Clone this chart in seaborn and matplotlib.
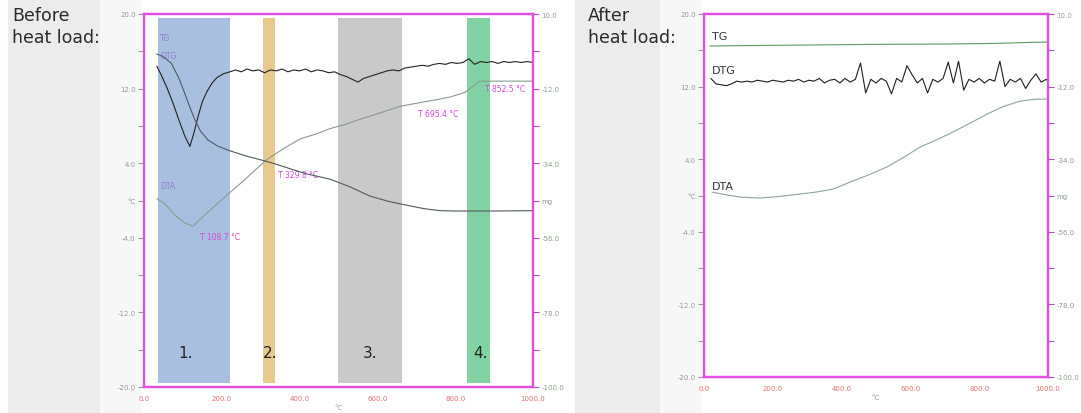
import matplotlib
matplotlib.use("Agg")
import matplotlib.pyplot as plt
import matplotlib.patches as mpatches
import seaborn as sns

# --- data (left axis: DTA/DTG, right axis: TG) ---

# Before heat load
dtg_before_t = [33, 45, 60, 75, 90, 105, 118, 128, 139, 150, 162, 175, 188, 205, 221,
                235, 250, 265, 280, 295, 310, 325, 340, 355, 370, 385, 400, 415, 430,
                445, 460, 475, 490, 505, 520, 535, 550, 565, 580, 595, 610, 625, 640,
                655, 670, 685, 700, 715, 730, 745, 760, 775, 790, 805, 820, 835, 850,
                865, 880, 895, 910, 925, 940, 955, 970, 985, 1000]
dtg_before_v = [14.4, 13.4, 12.0, 10.4, 8.6, 6.9, 5.8, 7.2, 9.0, 10.6, 11.7, 12.6, 13.2, 13.6, 13.8,
                14.0, 13.8, 14.1, 13.9, 14.0, 13.7, 14.0, 13.9, 14.1, 13.8, 14.0, 13.9, 14.1, 13.8,
                14.0, 13.9, 13.7, 13.8, 13.5, 13.3, 13.0, 12.7, 13.1, 13.3, 13.5, 13.7, 13.9, 14.0,
                13.9, 14.2, 14.3, 14.4, 14.5, 14.4, 14.6, 14.7, 14.6, 14.8, 14.7, 14.8, 15.2, 14.6,
                14.9, 14.8, 14.9, 14.7, 14.9, 14.8, 14.9, 14.8, 14.9, 14.8]

dta_before_t = [33, 55, 80, 105, 126, 150, 200, 250, 316, 360, 401, 440, 478, 520, 555,
                600, 658, 710, 750, 787, 825, 845, 858, 870, 900, 950, 1000]
dta_before_v = [0.2, -0.4, -1.6, -2.4, -2.75, -1.8, 0.1, 1.9, 4.4, 5.6, 6.6, 7.1, 7.7, 8.2, 8.7,
                9.3, 10.1, 10.5, 10.8, 11.1, 11.6, 12.2, 12.7, 12.8, 12.8, 12.8, 12.8]

tg_before_t = [33, 50, 70, 90, 105, 118, 130, 145, 165, 190, 220, 260, 300, 340, 380,
               420, 478, 530, 581, 630, 684, 720, 761, 800, 900, 1000]
tg_before_v = [-1.8, -2.6, -4.5, -9.0, -13.5, -17.5, -21.0, -24.5, -27.2, -29.0, -30.3, -31.8,
               -33.0, -34.3, -35.8, -37.2, -38.7, -41.0, -43.7, -45.3, -46.6, -47.4, -48.0,
               -48.1, -48.1, -48.0]

# step regions 1-4
band_starts = [36, 306, 499, 830]
band_ends = [221, 337, 663, 889]
band_colors = ["#a9bfe0", "#e9c98e", "#c9c9c9", "#82d3a3"]
band_labels = ["1.", "2.", "3.", "4."]
band_label_x = [108, 324, 581, 864]

# marked temperatures on the DTA curve
peak_texts = ["T 108.7 °C", "T 329.8 °C", "T 695.4 °C", "T 852.5 °C"]
peak_text_x = [144, 344, 704, 877]
peak_text_y = [-3.9, 2.8, 9.3, 12.0]

# After heat load
dtg_after_t = [20, 35, 50, 65, 80, 95, 110, 125, 140, 155, 170, 185, 200, 215, 230, 245,
               260, 275, 290, 305, 320, 335, 350, 365, 380, 395, 410, 425, 440, 455, 470,
               485, 500, 515, 530, 545, 560, 575, 590, 605, 620, 635, 650, 665, 680, 695,
               710, 725, 740, 755, 770, 785, 800, 815, 830, 845, 860, 875, 890, 905, 920,
               935, 950, 965, 980, 995, 1000]
dtg_after_v = [12.9, 12.3, 12.2, 12.1, 12.3, 12.6, 12.5, 12.6, 12.5, 12.7, 12.6, 12.5, 12.7, 12.6,
               12.5, 12.7, 12.6, 12.8, 12.5, 12.7, 12.6, 12.9, 12.4, 12.7, 12.8, 12.4, 12.9, 12.5,
               12.8, 14.6, 11.3, 12.8, 12.4, 12.9, 12.6, 11.2, 12.9, 12.5, 14.3, 13.3, 12.4, 12.9,
               11.3, 12.8, 12.5, 12.9, 14.7, 12.4, 14.8, 11.6, 12.8, 12.5, 12.9, 12.4, 12.8, 12.6,
               14.8, 12.0, 12.8, 12.5, 12.9, 11.8, 12.7, 13.4, 12.5, 12.8, 12.6]

dta_after_t = [23, 60, 105, 163, 220, 279, 330, 375, 433, 480, 532, 580, 628, 680, 724,
               775, 823, 870, 919, 960, 1000]
dta_after_v = [0.38, 0.1, -0.17, -0.28, -0.1, 0.16, 0.4, 0.71, 1.6, 2.3, 3.14, 4.2, 5.34, 6.2,
               7.0, 8.0, 8.98, 9.8, 10.4, 10.6, 10.63]

tg_after_t = [17, 100, 300, 500, 700, 850, 950, 1000]
tg_after_v = [0.3, 0.4, 0.6, 0.8, 0.9, 1.1, 1.4, 1.5]

# axis ticks
x_ticks = [0, 200, 400, 600, 800, 1000]
x_labels = ["0.0", "200.0", "400.0", "600.0", "800.0", "1000.0"]
left_ticks = [20, 12, 4, -4, -12, -20]
left_labels = ["20.0", "12.0", "4.0", "-4.0", "-12.0", "-20.0"]
right_ticks = [10, -12, -34, -56, -78, -100]
right_labels = ["10.0", "-12.0", "-34.0", "-56.0", "-78.0", "-100.0"]

sns.set_style("white")
plt.rcParams['font.family'] = ['DejaVu Sans']

W, H = 1081, 414
fig = plt.figure(figsize=(W / 100, H / 100), dpi=100)
fig.patch.set_facecolor("white")

# grey side columns behind the captions
def add_bg(x0, x1, color):
    fig.patches.append(mpatches.Rectangle((x0 / W, 0), (x1 - x0) / W, 1,
                                          transform=fig.transFigure, color=color, zorder=-5))

add_bg(8, 100, "#ececec")
add_bg(100, 140, "#f7f7f7")
add_bg(575, 660, "#ececec")
add_bg(660, 700, "#f7f7f7")

fig.text(12 / W, 1 - 7 / H, "Before\nheat load:", fontsize=12.5, color="#2a2a2a",
         va="top", ha="left", linespacing=1.3)
fig.text(588 / W, 1 - 7 / H, "After\nheat load:", fontsize=12.5, color="#2a2a2a",
         va="top", ha="left", linespacing=1.3)

spine_col = "#e24fe0"


def style_axes(ax, ax2):
    ax.set_xlim(0, 1000)
    ax.set_ylim(-20, 20)
    ax2.set_ylim(-100, 10)
    ax.set_facecolor("white")
    for a in (ax, ax2):
        for s in a.spines.values():
            s.set_color(spine_col)
            s.set_linewidth(1.6)
    ax.set_xticks(x_ticks, labels=x_labels)
    ax.set_xticks([100, 300, 500, 700, 900], minor=True)
    ax.set_yticks(left_ticks, labels=left_labels)
    ax.set_yticks([16, 8, 0, -8, -16], labels=["", "", "°C", "", ""], minor=True)
    ax2.set_yticks(right_ticks, labels=right_labels)
    ax2.set_yticks([-1, -23, -45, -67, -89], labels=["", "", "mg", "", ""], minor=True)
    ax.tick_params(axis="x", which="both", direction="out", length=4, width=0.8,
                   colors="#a050c0", labelsize=5, labelcolor="#e07070", pad=2)
    ax.tick_params(axis="y", which="both", direction="out", length=4, width=0.8,
                   colors="#999999", labelsize=5, labelcolor="#999999", pad=2)
    ax2.tick_params(axis="y", which="both", direction="out", length=4, width=0.8,
                    colors="#a050c0", labelsize=5, labelcolor="#8aa08a", pad=2)
    ax.set_xlabel("°C", fontsize=5, color="#999999", labelpad=2)
    ax.set_ylabel("")
    ax2.set_ylabel("")
    ax.grid(False)
    ax2.grid(False)


# ---------------- before heat load ----------------
ax = fig.add_axes([144 / W, (H - 388) / H, 389 / W, 373 / H])
ax2 = ax.twinx()
style_axes(ax, ax2)

for s, e, c in zip(band_starts, band_ends, band_colors):
    ax.axvspan(s, e, ymin=0.012, ymax=0.988, color=c, lw=0, zorder=0)
for x, lab in zip(band_label_x, band_labels):
    ax.text(x, -16.3, lab, fontsize=11, color="#222222", ha="center", va="center")

sns.lineplot(x=dta_before_t, y=dta_before_v, ax=ax, color="#8a9a90", linewidth=0.8)
sns.lineplot(x=dtg_before_t, y=dtg_before_v, ax=ax, color="#222222", linewidth=0.8)
sns.lineplot(x=tg_before_t, y=tg_before_v, ax=ax2, color="#4f5a62", linewidth=0.8)

for x, y, t in zip(peak_text_x, peak_text_y, peak_texts):
    ax.text(x, y, t, fontsize=5.5, color="#d548d5", ha="left", va="center")
ax.text(41, 17.5, "TG", fontsize=5.5, color="#8a82c8", ha="left", va="center")
ax.text(41, 15.6, "DTG", fontsize=5.5, color="#8a82c8", ha="left", va="center")
ax.text(41, 1.6, "DTA", fontsize=5.5, color="#8a82c8", ha="left", va="center")

# ---------------- after heat load ----------------
bx = fig.add_axes([704 / W, (H - 378) / H, 344 / W, 363 / H])
bx2 = bx.twinx()
style_axes(bx, bx2)

sns.lineplot(x=dta_after_t, y=dta_after_v, ax=bx, color="#8fa595", linewidth=0.8)
sns.lineplot(x=dtg_after_t, y=dtg_after_v, ax=bx, color="#1e1e1e", linewidth=0.8)
sns.lineplot(x=tg_after_t, y=tg_after_v, ax=bx2, color="#5f9a62", linewidth=0.8)

bx.text(23, 17.6, "TG", fontsize=8, color="#333333", ha="left", va="center")
bx.text(23, 13.8, "DTG", fontsize=8, color="#333333", ha="left", va="center")
bx.text(23, 1.1, "DTA", fontsize=8, color="#333333", ha="left", va="center")

fig.savefig("out.png", dpi=100)
